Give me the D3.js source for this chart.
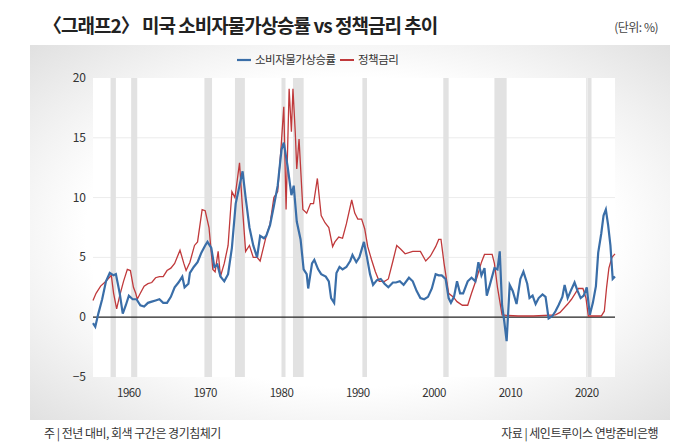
<!DOCTYPE html>
<html><head><meta charset="utf-8">
<script src="https://cdn.jsdelivr.net/npm/d3@7"></script>
<style>body{margin:0;background:#fff;font-family:"Noto Sans CJK KR","Noto Sans",sans-serif}</style>
</head><body><svg id="chart" width="700" height="447"></svg>
<script>
// recession bands (NBER)
var recessions = [[1957.6,1958.3],[1960.3,1961.1],[1969.9,1970.9],[1973.9,1975.2],[1980.0,1980.5],
  [1981.5,1982.9],[1990.6,1991.2],[2001.2,2001.9],[2007.9,2009.5],[2020.1,2020.3]];

// CPI yoy
var cpi = [[1955.3,-0.5],[1955.6,-0.8],[1956,0.3],[1956.5,1.5],[1957,3.0],[1957.5,3.7],[1958,3.5],[1958.3,3.6],[1958.8,2.0],[1959.2,0.3],[1959.6,1.0],[1960,1.8],[1960.5,1.5],[1961,1.5],[1961.5,1.0],[1962,0.9],[1962.5,1.2],[1963,1.3],[1963.5,1.4],[1964,1.5],[1964.5,1.2],[1965,1.2],[1965.5,1.7],[1966,2.5],[1966.5,2.9],[1967,3.4],[1967.3,2.5],[1967.8,2.8],[1968,3.7],[1968.5,4.2],[1969,4.6],[1969.5,5.4],[1970,6.0],[1970.3,6.3],[1970.8,5.8],[1971.2,4.2],[1971.6,4.4],[1972,3.4],[1972.5,3.0],[1973,3.6],[1973.5,5.8],[1974,9.5],[1974.5,11.0],[1974.9,12.2],[1975.3,10.0],[1975.8,7.5],[1976.3,6.0],[1976.8,5.0],[1977.2,6.8],[1977.7,6.6],[1978,6.8],[1978.5,7.7],[1979,9.3],[1979.5,11.0],[1980,14.0],[1980.3,14.6],[1980.8,12.6],[1981.3,10.2],[1981.6,11.0],[1982,8.0],[1982.5,6.5],[1982.9,4.0],[1983.3,3.6],[1983.5,2.4],[1984,4.5],[1984.3,4.8],[1984.8,4.0],[1985.2,3.6],[1985.8,3.4],[1986.2,3.0],[1986.5,1.6],[1986.9,1.2],[1987.2,3.7],[1987.6,4.2],[1988,4.0],[1988.5,4.2],[1989,4.7],[1989.3,5.2],[1989.8,4.6],[1990.2,5.0],[1990.8,6.3],[1991.2,5.0],[1991.6,3.6],[1992,2.7],[1992.5,3.1],[1993,3.2],[1993.5,2.8],[1994,2.5],[1994.6,2.9],[1995,2.9],[1995.5,3.0],[1996,2.7],[1996.7,3.3],[1997.2,3.0],[1997.7,2.2],[1998.2,1.6],[1998.7,1.5],[1999.2,1.7],[1999.7,2.4],[2000.2,3.6],[2000.6,3.5],[2001,3.5],[2001.5,3.2],[2001.9,1.6],[2002.2,1.2],[2002.6,1.7],[2003,3.0],[2003.4,2.0],[2003.8,2.0],[2004.4,3.0],[2004.9,3.3],[2005.4,3.0],[2005.8,4.6],[2006.2,3.5],[2006.6,4.1],[2006.9,1.8],[2007.3,2.7],[2007.9,4.1],[2008.3,4.0],[2008.6,5.5],[2008.9,1.0],[2009.2,-0.4],[2009.5,-2.0],[2009.9,2.7],[2010.3,2.2],[2010.8,1.1],[2011.3,3.2],[2011.7,3.8],[2012.2,2.8],[2012.5,1.6],[2012.9,1.8],[2013.3,1.1],[2013.7,1.6],[2014.2,1.9],[2014.6,1.7],[2015,-0.1],[2015.5,0.1],[2015.9,0.5],[2016.3,1.0],[2016.8,1.7],[2017.1,2.7],[2017.5,1.6],[2017.9,2.2],[2018.4,2.9],[2018.8,2.2],[2019.2,1.6],[2019.6,1.8],[2020,2.5],[2020.4,0.2],[2020.8,1.2],[2021.2,2.6],[2021.5,5.4],[2021.9,7.0],[2022.2,8.5],[2022.5,9.0],[2022.8,7.7],[2023.1,6.0],[2023.4,3.2],[2023.7,3.4]];

// fed funds rate
var fed = [[1955.3,1.4],[1955.7,2.0],[1956.3,2.6],[1957,3.0],[1957.7,3.5],[1958,2.0],[1958.4,0.7],[1958.8,1.8],[1959.3,3.0],[1959.8,4.0],[1960.2,3.9],[1960.6,2.5],[1960.9,2.0],[1961.1,1.5],[1961.5,2.0],[1962,2.6],[1962.5,2.8],[1963,2.9],[1963.5,3.3],[1964,3.4],[1964.5,3.4],[1965,3.9],[1965.5,4.1],[1966,4.5],[1966.7,5.6],[1967.2,4.5],[1967.5,3.9],[1968,4.6],[1968.6,6.0],[1969,6.3],[1969.6,9.0],[1970,8.9],[1970.5,7.5],[1971,4.0],[1971.3,3.8],[1971.7,5.5],[1972,3.4],[1972.5,4.5],[1973,6.0],[1973.5,10.5],[1973.9,10.0],[1974.5,12.9],[1974.9,9.0],[1975.3,5.5],[1975.8,6.0],[1976.3,5.0],[1976.8,5.0],[1977.2,4.7],[1977.7,6.0],[1978,6.8],[1978.5,7.8],[1979,10.0],[1979.5,10.5],[1979.9,13.8],[1980.3,17.6],[1980.6,9.0],[1981,19.1],[1981.3,15.5],[1981.5,19.1],[1981.8,15.5],[1982,12.4],[1982.3,14.9],[1982.8,9.0],[1983.3,8.7],[1983.8,9.5],[1984.2,9.5],[1984.7,11.6],[1985.2,8.5],[1985.7,7.9],[1986.2,7.5],[1986.7,5.9],[1987,6.3],[1987.5,6.7],[1988,6.6],[1988.5,7.8],[1989.2,9.8],[1989.6,8.7],[1990,8.2],[1990.5,8.2],[1990.9,7.4],[1991.3,5.9],[1991.8,4.8],[1992.3,3.8],[1992.8,3.0],[1993.5,3.0],[1994,3.2],[1994.6,4.7],[1995.1,6.0],[1995.6,5.7],[1996.2,5.3],[1997.2,5.5],[1998.2,5.5],[1998.9,4.7],[1999.5,5.1],[2000.2,5.9],[2000.6,6.5],[2000.9,6.5],[2001.3,4.5],[2001.9,2.0],[2002.5,1.7],[2003,1.3],[2003.7,1.0],[2004.4,1.0],[2004.9,2.0],[2005.6,3.3],[2006.2,4.6],[2006.6,5.25],[2007.6,5.25],[2007.9,4.5],[2008.3,2.5],[2008.9,0.2],[2009.5,0.15],[2011,0.1],[2013,0.1],[2015.9,0.2],[2016.5,0.4],[2017.5,1.1],[2018,1.5],[2018.9,2.4],[2019.5,2.4],[2019.9,1.6],[2020.2,0.1],[2021.9,0.1],[2022.3,0.5],[2022.6,2.5],[2022.9,4.1],[2023.3,5.0],[2023.7,5.3]];

var svg = d3.select("#chart");
var defs = svg.append("defs");
var grad = defs.append("radialGradient").attr("id","bg").attr("cx","50%").attr("cy","50%").attr("r","75%");
grad.append("stop").attr("offset","55%").attr("stop-color","#ffffff");
grad.append("stop").attr("offset","100%").attr("stop-color","#dcdcdc");
svg.append("rect").attr("x",30).attr("y",45).attr("width",640).attr("height",375).attr("fill","url(#bg)");

var x = d3.scaleLinear().domain([1955.3, 2023.7]).range([93, 615]);
var y = d3.scaleLinear().domain([-5, 20]).range([377, 78]);

svg.append("rect").attr("x",93).attr("y",78).attr("width",522).attr("height",299).attr("fill","#fff");

// gridlines
svg.selectAll(".grid").data([5,10,15]).enter().append("line")
  .attr("x1",93).attr("x2",615).attr("y1",d=>y(d)).attr("y2",d=>y(d))
  .attr("stroke","#ececec");

svg.selectAll(".rec").data(recessions).enter().append("rect")
  .attr("x",d=>x(d[0])).attr("width",d=>Math.max(4,x(d[1])-x(d[0])))
  .attr("y",78).attr("height",299).attr("fill","#e2e2e2");

svg.append("line").attr("x1",x(2020)).attr("x2",x(2020)).attr("y1",78).attr("y2",377).attr("stroke","#e2e2e2");

// zero line
svg.append("line").attr("x1",93).attr("x2",615).attr("y1",y(0)).attr("y2",y(0)).attr("stroke","#222").attr("stroke-width",1.3);

var line = d3.line().x(d=>x(d[0])).y(d=>y(d[1]));
svg.append("path").datum(fed).attr("d",line).attr("fill","none").attr("stroke","#c0393b").attr("stroke-width",1.3);
svg.append("path").datum(cpi).attr("d",line).attr("fill","none").attr("stroke","#3a6ea8").attr("stroke-width",2.2);

// y axis labels
svg.selectAll(".yl").data([20,15,10,5,0,-5]).enter().append("text")
  .attr("x",86).attr("y",d=>y(d)+4).attr("text-anchor","end")
  .attr("font-size",12).attr("fill","#333").text(d=>d<0?"\u2212"+(-d):d);
// x axis labels
svg.selectAll(".xl").data([1960,1970,1980,1990,2000,2010,2020]).enter().append("text")
  .attr("x",d=>x(d)).attr("y",397).attr("text-anchor","middle")
  .attr("font-size",11.5).attr("fill","#333").attr("letter-spacing","-0.5").text(d=>d);

// title
svg.append("text").attr("x",43).attr("y",33).attr("font-size",19).attr("font-weight","bold")
  .attr("fill","#222").attr("letter-spacing","-1").text("〈그래프2〉 미국 소비자물가상승률 vs 정책금리 추이");
svg.append("text").attr("x",658).attr("y",32).attr("text-anchor","end").attr("font-size",12)
  .attr("fill","#444").attr("letter-spacing","-0.5").text("(단위: %)");

// legend
var lg = svg.append("g").attr("font-size",11.5).attr("fill","#333");
lg.append("line").attr("x1",237).attr("x2",251).attr("y1",60).attr("y2",60).attr("stroke","#3a6ea8").attr("stroke-width",2.2);
lg.append("text").attr("x",255).attr("y",64).attr("letter-spacing","-0.5").text("소비자물가상승률");
lg.append("line").attr("x1",340).attr("x2",354).attr("y1",60).attr("y2",60).attr("stroke","#c0393b").attr("stroke-width",2);
lg.append("text").attr("x",358).attr("y",64).attr("letter-spacing","-0.5").text("정책금리");

// footnotes
svg.append("text").attr("x",44).attr("y",438).attr("font-size",12).attr("fill","#333")
  .attr("letter-spacing","-0.5").text("주 | 전년 대비, 회색 구간은 경기침체기");
svg.append("text").attr("x",658).attr("y",438).attr("text-anchor","end").attr("font-size",12).attr("fill","#333")
  .attr("letter-spacing","-0.5").text("자료 | 세인트루이스 연방준비은행");
</script></body></html>
